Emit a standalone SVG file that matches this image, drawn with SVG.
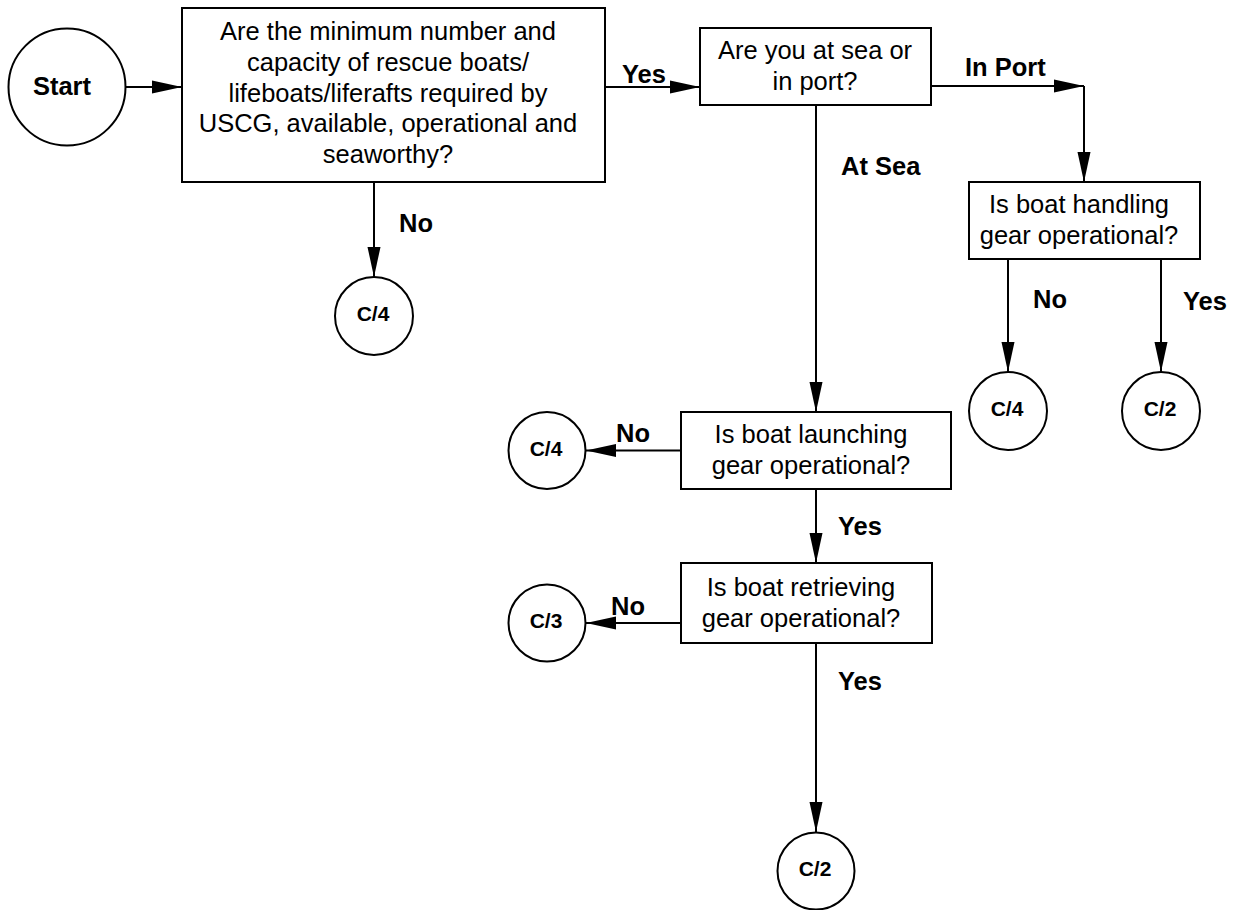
<svg xmlns="http://www.w3.org/2000/svg" width="1243" height="910" viewBox="0 0 1243 910">
  <style>
    .shape { fill: #ffffff; stroke: #000000; stroke-width: 2; }
    .link { fill: none; stroke: #000000; stroke-width: 2; marker-end: url(#arrow); }
    .q { font-family: "Liberation Sans", Arial, sans-serif; font-size: 25.5px; fill: #000000; text-anchor: middle; }
    .lbl { font-family: "Liberation Sans", Arial, sans-serif; font-size: 25.5px; font-weight: bold; fill: #000000; }
    .ref { font-family: "Liberation Sans", Arial, sans-serif; font-size: 21px; font-weight: bold; fill: #000000; text-anchor: middle; }
    .big { font-size: 25.5px; }
  </style>
  <defs>
    <marker id="arrow" markerUnits="userSpaceOnUse" markerWidth="30" markerHeight="14" refX="30" refY="7" orient="auto">
      <path d="M0,0.5 L30,7 L0,13.5 Z" fill="#000000"/>
    </marker>
  </defs>
  <rect width="1243" height="910" fill="#ffffff"/>

  <!-- connectors -->
  <g id="connectors">
    <path class="link" d="M126,87 H182"/>
    <path class="link" d="M374,182 V277"/>
    <path class="link" d="M605,87 H700"/>
    <path class="link" d="M816,105 V412"/>
    <path class="link" d="M931,86 H1084"/>
    <path class="link" d="M1084,86 V182"/>
    <path class="link" d="M1008,259 V372"/>
    <path class="link" d="M1161,259 V372"/>
    <path class="link" d="M681,450.5 H586"/>
    <path class="link" d="M816,489 V563"/>
    <path class="link" d="M681,623 H586"/>
    <path class="link" d="M816,643 V832"/>
  </g>

  <!-- connector labels -->
  <g id="labels">
    <text class="lbl" x="622" y="83">Yes</text>
    <text class="lbl" x="399" y="232">No</text>
    <text class="lbl" x="841" y="175">At Sea</text>
    <text class="lbl" x="965" y="76">In Port</text>
    <text class="lbl" x="1033" y="308">No</text>
    <text class="lbl" x="1183" y="310">Yes</text>
    <text class="lbl" x="616" y="442">No</text>
    <text class="lbl" x="838" y="535">Yes</text>
    <text class="lbl" x="611" y="615">No</text>
    <text class="lbl" x="838" y="690">Yes</text>
  </g>

  <!-- start -->
  <g id="start">
    <circle class="shape" cx="67" cy="87" r="58.5"/>
    <text class="ref big" x="62" y="95">Start</text>
  </g>

  <!-- decision: required boats available -->
  <g id="q-boats">
    <rect class="shape" x="182" y="8" width="423" height="174"/>
    <text class="q" x="388" y="40">Are the minimum number and</text>
    <text class="q" x="388" y="70.75">capacity of rescue boats/</text>
    <text class="q" x="388" y="101.5">lifeboats/liferafts required by</text>
    <text class="q" x="388" y="132.25">USCG, available, operational and</text>
    <text class="q" x="388" y="163">seaworthy?</text>
  </g>

  <g id="c4-a">
    <circle class="shape" cx="374" cy="316" r="39"/>
    <text class="ref" x="373" y="321">C/4</text>
  </g>

  <!-- decision: at sea or in port -->
  <g id="q-location">
    <rect class="shape" x="700" y="28" width="231" height="77"/>
    <text class="q" x="815" y="59">Are you at sea or</text>
    <text class="q" x="815" y="90">in port?</text>
  </g>

  <!-- decision: handling gear -->
  <g id="q-handling">
    <rect class="shape" x="969" y="182" width="231" height="77"/>
    <text class="q" x="1079" y="213">Is boat handling</text>
    <text class="q" x="1079" y="244">gear operational?</text>
  </g>

  <g id="c4-b">
    <circle class="shape" cx="1008" cy="411" r="39"/>
    <text class="ref" x="1007" y="416">C/4</text>
  </g>

  <g id="c2-a">
    <circle class="shape" cx="1161" cy="411" r="39"/>
    <text class="ref" x="1160" y="416">C/2</text>
  </g>

  <!-- decision: launching gear -->
  <g id="q-launching">
    <rect class="shape" x="681" y="412" width="270" height="77"/>
    <text class="q" x="811" y="443">Is boat launching</text>
    <text class="q" x="811" y="474">gear operational?</text>
  </g>

  <g id="c4-c">
    <circle class="shape" cx="547" cy="450.5" r="38.5"/>
    <text class="ref" x="546" y="455.5">C/4</text>
  </g>

  <!-- decision: retrieving gear -->
  <g id="q-retrieving">
    <rect class="shape" x="681" y="563" width="251" height="80"/>
    <text class="q" x="801" y="596">Is boat retrieving</text>
    <text class="q" x="801" y="627">gear operational?</text>
  </g>

  <g id="c3">
    <circle class="shape" cx="547" cy="623" r="38.5"/>
    <text class="ref" x="546" y="628">C/3</text>
  </g>

  <g id="c2-b">
    <circle class="shape" cx="816" cy="871" r="38.5"/>
    <text class="ref" x="815" y="876">C/2</text>
  </g>
</svg>
